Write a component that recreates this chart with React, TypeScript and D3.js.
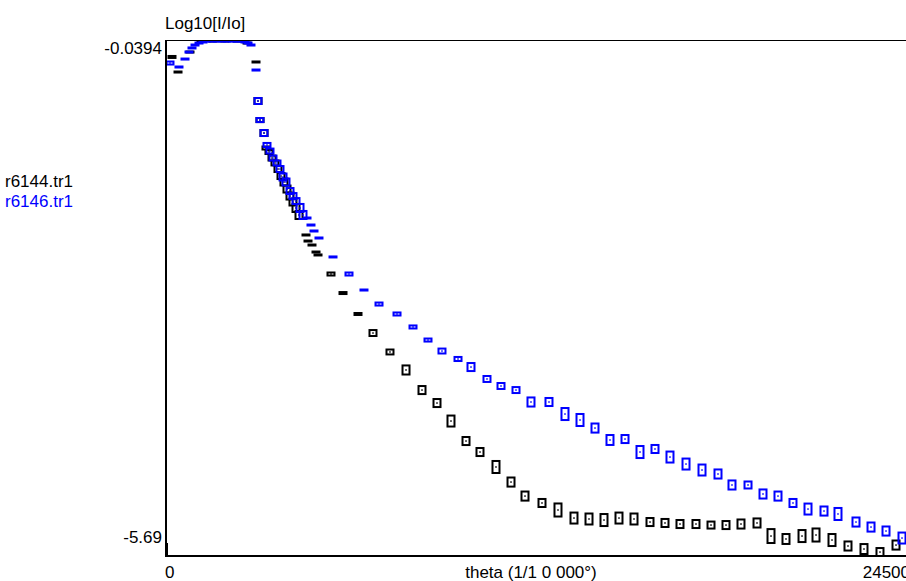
import React from "react";
import * as d3 from "d3";

const seriesNames = ["r6144.tr1", "r6146.tr1"];
const seriesColors = ["#000000", "#0000FF"];
const yTickValues = [-0.0394, -5.69];
const yTickLabels = ["-0.0394", "-5.69"];
const xTickValues = [0, 24500];
const xTickLabels = ["0", "24500"];
const xTitle = "theta (1/1 0 000°)";
const yTitle = "Log10[I/Io]";

// r6144.tr1 (black)
const blackTheta = [
  230, 428, 822, 1184, 1579, 1973, 2368, 2697, 2993,
  3058, 3124, 3256, 3321, 3420, 3519, 3617, 3716, 3815, 3913, 4012, 4111, 4209, 4308, 4407,
  4637, 4703, 4834, 4966, 5032, 5459, 5854, 6347, 6840, 7399, 7926, 8452, 8945, 9405, 9899,
  10359, 10885, 11379, 11839, 12398, 12924, 13450, 13944, 14437, 14930, 15424, 15950, 16443,
  16936, 17462, 17956, 18449, 18942, 19469, 19929, 20422, 20949, 21409, 21935, 22461, 22987,
  23513, 24040,
];
const blackLog = [
  -0.143, -0.317, -0.086, 0.041, 0.041, 0.041, 0.041, 0.018, -0.201,
  -0.652, -0.872, -1.022, -1.195, -1.241, -1.311, -1.368, -1.438, -1.519, -1.588, -1.669, -1.75, -1.819, -1.888, -1.969,
  -2.2, -2.27, -2.316, -2.397, -2.431, -2.651, -2.871, -3.113, -3.333, -3.552, -3.76, -3.992, -4.142, -4.35, -4.581,
  -4.708, -4.881, -5.055, -5.217, -5.297, -5.378, -5.471, -5.482, -5.494, -5.471, -5.482, -5.517, -5.528,
  -5.54, -5.54, -5.552, -5.552, -5.54, -5.528, -5.679, -5.713, -5.679, -5.667, -5.725, -5.794, -5.829,
  -5.864, -5.783,
];
const blackErr = [
  0.023, 0.017, 0.017, 0.017, 0.017, 0.017, 0.017, 0.017, 0.017,
  0.046, 0.035, 0.046, 0.029, 0.035, 0.04, 0.04, 0.046, 0.046, 0.052, 0.052, 0.052, 0.052, 0.058, 0.058,
  0.017, 0.017, 0.017, 0.017, 0.017, 0.029, 0.023, 0.023, 0.046, 0.04, 0.064, 0.058, 0.058, 0.075, 0.058,
  0.058, 0.081, 0.064, 0.064, 0.058, 0.087, 0.075, 0.075, 0.081, 0.075, 0.075, 0.058, 0.058,
  0.058, 0.058, 0.052, 0.058, 0.064, 0.064, 0.092, 0.069, 0.081, 0.087, 0.081, 0.064, 0.069,
  0.058, 0.064,
];

// r6146.tr1 (blue)
const blueTheta = [
  164, 460, 658, 789, 888, 987, 1118, 1250, 1381, 1546, 1710, 1875, 2039, 2203, 2368, 2499, 2631, 2730, 2828, 2993,
  3058, 3124, 3256, 3354, 3453, 3552, 3683, 3782, 3881, 3979, 4111, 4209, 4308, 4440, 4538,
  4670, 4801, 4900, 5064, 5525, 6051, 6544, 7038, 7630, 8156, 8649, 9109, 9636, 10063,
  10589, 11050, 11543, 12036, 12628, 13154, 13648, 14141, 14634, 15128, 15621, 16114, 16607,
  17134, 17660, 18186, 18646, 19173, 19666, 20159, 20652, 21146, 21672, 22132, 22724, 23218,
  23711, 24237,
];
const blueLog = [
  -0.213, -0.259, -0.167, -0.086, -0.039, -0.005, 0.018, 0.03, 0.041, 0.041, 0.041, 0.041, 0.041, 0.041, 0.041, 0.041, 0.03, 0.018, -0.005, -0.294,
  -0.652, -0.872, -1.022, -1.16, -1.23, -1.311, -1.368, -1.438, -1.53, -1.588, -1.692, -1.75, -1.808, -1.888, -1.969,
  -2.004, -2.085, -2.154, -2.235, -2.454, -2.651, -2.836, -2.998, -3.113, -3.263, -3.414, -3.541, -3.633, -3.726,
  -3.864, -3.945, -3.992, -4.13, -4.13, -4.269, -4.338, -4.431, -4.569, -4.558, -4.708, -4.673, -4.766,
  -4.847, -4.916, -4.962, -5.089, -5.089, -5.193, -5.217, -5.297, -5.367, -5.39, -5.424, -5.517, -5.575,
  -5.621, -5.702,
];
const blueErr = [
  0.029, 0.017, 0.017, 0.017, 0.017, 0.017, 0.017, 0.017, 0.017, 0.017, 0.017, 0.017, 0.017, 0.017, 0.017, 0.017, 0.017, 0.017, 0.017, 0.017,
  0.046, 0.035, 0.046, 0.035, 0.04, 0.04, 0.04, 0.046, 0.052, 0.052, 0.046, 0.046, 0.046, 0.058, 0.058,
  0.017, 0.017, 0.017, 0.017, 0.017, 0.029, 0.017, 0.029, 0.029, 0.029, 0.029, 0.04, 0.035, 0.058,
  0.046, 0.046, 0.046, 0.064, 0.058, 0.081, 0.081, 0.064, 0.069, 0.058, 0.081, 0.058, 0.075,
  0.075, 0.075, 0.064, 0.064, 0.052, 0.064, 0.064, 0.058, 0.075, 0.064, 0.081, 0.064, 0.064,
  0.064, 0.075,
];

const W = 906;
const H = 581;
const plotLeft = 165;
const plotTop = 40;
const plotRight = 910;
const plotBottom = 556;

export default function App() {
  const x = d3.scaleLinear().domain([xTickValues[0], xTickValues[1]]).range([plotLeft, plotRight]);
  const y = d3.scaleLinear().domain([yTickValues[1], yTickValues[0]]).range([537, 48]);

  const series = [
    { theta: blackTheta, log: blackLog, err: blackErr, color: seriesColors[0] },
    { theta: blueTheta, log: blueLog, err: blueErr, color: seriesColors[1] },
  ];

  const font = "'Liberation Sans', Arial, sans-serif";
  const fs = 17;
  const boxW = 9;
  const sw = 2;

  return (
    <div style={{ position: "absolute", left: 0, top: 0, width: W, height: H, background: "#fff" }}>
      <svg width={W} height={H} style={{ display: "block" }}>
        <defs>
          <clipPath id="plotclip">
            <rect x={plotLeft} y={plotTop} width={plotRight - plotLeft} height={plotBottom - plotTop} />
          </clipPath>
        </defs>
        <rect x={0} y={0} width={W} height={H} fill="#fff" />

        <g clipPath="url(#plotclip)">
          {series.map((s, si) => (
            <g key={si}>
              {s.theta.map((t, i) => {
                const cx = x(t);
                const cy = y(s.log[i]);
                const hOuter = Math.abs(y(s.log[i] - s.err[i]) - y(s.log[i] + s.err[i]));
                const hInner = Math.max(1, hOuter - sw);
                return (
                  <g key={i}>
                    <rect
                      x={cx - (boxW - sw) / 2}
                      y={cy - hInner / 2}
                      width={boxW - sw}
                      height={hInner}
                      fill={hInner <= 2 ? s.color : "none"}
                      stroke={s.color}
                      strokeWidth={sw}
                    />
                    {hInner > 3 && (
                      <rect x={cx - 0.75} y={cy - 0.75} width={1.5} height={1.5} fill={s.color} />
                    )}
                  </g>
                );
              })}
            </g>
          ))}
        </g>

        {/* frame */}
        <line x1={plotLeft} x2={W} y1={plotTop + 0.5} y2={plotTop + 0.5} stroke="#000" strokeWidth={1} />
        <line x1={plotLeft + 1} x2={plotLeft + 1} y1={plotTop} y2={plotBottom + 1} stroke="#000" strokeWidth={2} />
        <line x1={plotLeft} x2={W} y1={plotBottom} y2={plotBottom} stroke="#000" strokeWidth={2} />
        <line x1={plotLeft + 1.5} x2={plotLeft + 1.5} y1={543} y2={plotBottom} stroke="#000" strokeWidth={3} />

        {/* y title */}
        <text x={plotLeft} y={29} fontFamily={font} fontSize={fs} fill="#000">
          {yTitle}
        </text>

        {/* y tick labels */}
        {yTickValues.map((v, i) => (
          <text
            key={i}
            x={plotLeft - 3}
            y={y(v) + 6}
            textAnchor="end"
            fontFamily={font}
            fontSize={fs}
            fill="#000"
          >
            {yTickLabels[i]}
          </text>
        ))}

        {/* x tick labels */}
        <text x={x(xTickValues[0])} y={578} fontFamily={font} fontSize={fs} fill="#000">
          {xTickLabels[0]}
        </text>
        <text x={x(xTickValues[1])} y={578} textAnchor="end" fontFamily={font} fontSize={fs} fill="#000">
          {xTickLabels[1]}
        </text>
        <text x={531} y={578} textAnchor="middle" fontFamily={font} fontSize={fs} fill="#000">
          {xTitle}
        </text>

        {/* legend */}
        {seriesNames.map((n, i) => (
          <text key={i} x={5} y={187 + i * 20} fontFamily={font} fontSize={fs} fill={seriesColors[i]}>
            {n}
          </text>
        ))}
      </svg>
    </div>
  );
}
